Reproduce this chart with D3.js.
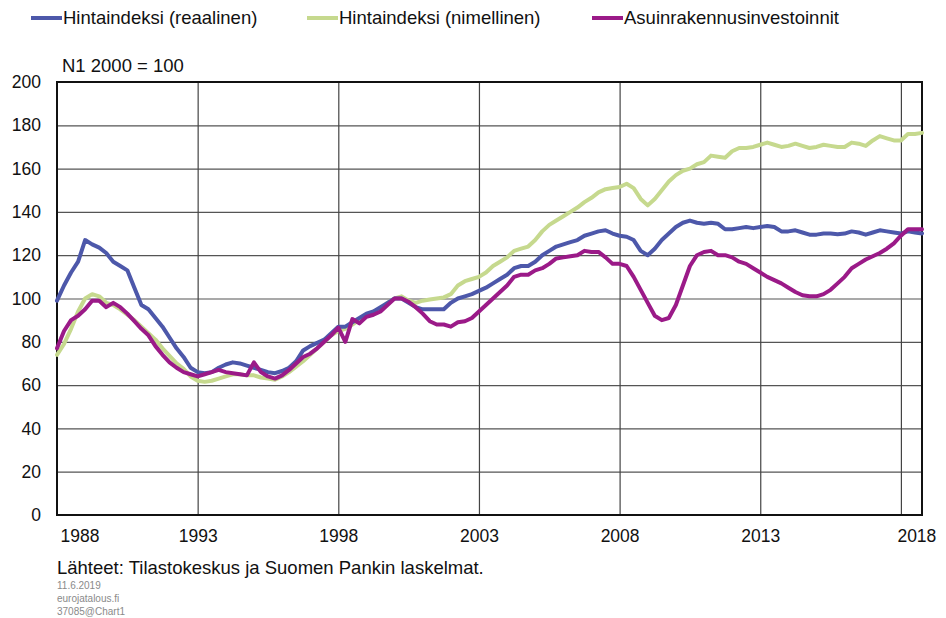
<!DOCTYPE html>
<html>
<head>
<meta charset="utf-8">
<script src="https://cdn.jsdelivr.net/npm/d3@7"></script>
<style>
  body { margin: 0; background: #fff; }
  svg { display: block; font-family: "Liberation Sans", Arial, sans-serif; }
</style>
</head>
<body>
<svg id="chart"></svg>
<script>
const width = 946
const height = 618
const marginTop = 82
const marginBottom = 103
const marginLeft = 57
const marginRight = 24

// quarterly values, 1988 Q1 .. 2018 Q4, N1 2000 = 100
const firstYear = 1988
const real = [
  99, 106, 112, 117,  127, 125, 123.5, 121,  117, 115, 113, 105,  97, 95, 91, 87,
  82, 77, 73, 68,  66, 65.5, 66, 68,  69.5, 70.5, 70, 69,  68, 67, 66, 65.5,
  66.5, 68, 71, 76,  78, 79.5, 81, 84,  87, 87, 89, 91,  93, 94, 96, 98,
  100, 100, 98, 96,  95, 95, 95, 95,  98, 100, 101, 102,  103.5, 105, 107, 109,
  111, 114, 115, 115,  117, 120, 122, 124,  125, 126, 127, 129,  130, 131, 131.5, 130,
  129, 128.5, 127, 122,  120, 123, 127, 130,  133, 135, 136, 135,  134.5, 135, 134.5, 132,
  132, 132.5, 133, 132.5,  133, 133.5, 133, 131,  131, 131.5, 130.5, 129.5,  129.5, 130, 130, 129.7,
  130, 131, 130.5, 129.5,  130.5, 131.5, 131, 130.5,  130, 131, 130.5, 130
]
const nominal = [
  74, 79, 86, 94,  100, 102, 101, 98,  97, 95, 92.5, 90,  87, 84, 81, 77,
  73.5, 70, 67.5, 64,  62, 61.5, 62, 63,  64, 65, 65, 64.5,  64.5, 63.5, 63, 62.5,
  64, 66, 68.5, 71,  74, 77, 80, 83,  85, 86, 88, 90,  92, 94, 95, 98,
  100, 101, 99, 98,  99, 99.5, 100, 100.5,  102, 106, 108, 109,  110, 112, 115, 117,
  119, 122, 123, 124,  127, 131, 134, 136,  138, 140, 142, 144.5,  146.5, 149, 150.5, 151,
  151.5, 153, 151, 146,  143, 146, 150, 154,  157, 159, 160, 162,  163, 166, 165.5, 165,
  168, 169.5, 169.5, 170,  171, 172, 171, 170,  170.5, 171.5, 170.5, 169.5,  170, 171, 170.5, 170,
  170, 172, 171.5, 170.5,  173, 175, 174, 173,  173, 176, 176, 176.5
]
const investments = [
  77, 85, 90, 92,  95, 99, 99, 96,  98, 96, 93, 89.5,  86, 83, 78, 74,
  70.5, 68, 66, 65,  64, 65, 66, 67,  66, 65.5, 65, 64.5,  70.5, 66, 64, 63,
  64.5, 67, 70, 73,  74.5, 77, 80, 83,  86.5, 80, 90.5, 88.5,  91.5, 92.5, 94, 97,
  100, 100, 98.5, 96,  93, 89.5, 88, 88,  87, 89, 89.5, 91,  94, 97, 100, 103,
  106, 110, 111, 111,  113, 114, 116, 118.5,  119, 119.5, 120, 122,  121.5, 121.5, 119, 116,
  116, 115, 110, 104,  98, 92, 90, 91,  97, 106, 115, 120,  121.5, 122, 120, 120,
  119, 117, 116, 114,  112, 110, 108.5, 107,  105, 103, 101.5, 101,  101, 102, 104, 107,
  110, 114, 116, 118,  119.5, 121, 123, 125.5,  129, 132, 132, 132
]

const seriesNames = ["Hintaindeksi (reaalinen)", "Hintaindeksi (nimellinen)", "Asuinrakennusinvestoinnit"]
const seriesColors = ["#4d58aa", "#c6d98e", "#9b1a88"]
const yTicks = [0, 20, 40, 60, 80, 100, 120, 140, 160, 180, 200]
const xTicks = [1988, 1993, 1998, 2003, 2008, 2013, 2018]

const series = [
  { name: seriesNames[0], color: seriesColors[0], values: real },
  { name: seriesNames[1], color: seriesColors[1], values: nominal },
  { name: seriesNames[2], color: seriesColors[2], values: investments }
]

const svg = d3.select("#chart")
  .attr("width", width)
  .attr("height", height)

const xScale = d3.scaleLinear()
  .domain([firstYear, firstYear + (real.length - 1) / 4])
  .range([marginLeft, width - marginRight])

const yScale = d3.scaleLinear()
  .domain([0, 200])
  .range([height - marginBottom, marginTop])

// grid
svg.append("g")
  .attr("transform", `translate(${marginLeft},0)`)
  .call(d3.axisLeft(yScale).tickValues(yTicks).tickSize(-(width - marginLeft - marginRight)).tickFormat(""))
  .call(g => g.select(".domain").remove())
  .call(g => g.selectAll("line").attr("stroke", "#555").attr("stroke-width", 1.2))

svg.append("g")
  .attr("transform", `translate(0,${height - marginBottom})`)
  .call(d3.axisBottom(xScale).tickValues(xTicks.slice(1)).tickSize(-(height - marginTop - marginBottom)).tickFormat(""))
  .call(g => g.select(".domain").remove())
  .call(g => g.selectAll("line").attr("stroke", "#444").attr("stroke-width", 1.2))

// y labels
svg.append("g")
  .attr("transform", `translate(${marginLeft},0)`)
  .call(d3.axisLeft(yScale).tickValues(yTicks).tickSize(0).tickPadding(16))
  .call(g => g.select(".domain").remove())
  .call(g => g.selectAll("text").attr("fill", "#111").style("font-size", "17.5px").style("font-family", "Liberation Sans, Arial, sans-serif"))

// x labels
svg.append("g")
  .attr("transform", `translate(0,${height - marginBottom})`)
  .call(d3.axisBottom(xScale).tickValues(xTicks).tickSize(0).tickPadding(15).tickFormat(d3.format("d")))
  .call(g => g.select(".domain").remove())
  .call(g => g.selectAll("text").attr("fill", "#111").style("font-size", "17.5px").style("font-family", "Liberation Sans, Arial, sans-serif"))
  .call(g => g.selectAll(".tick").filter(d => d === xTicks[0]).select("text").attr("text-anchor", "start").attr("dx", 3))
  .call(g => g.selectAll(".tick").filter(d => d === xTicks[xTicks.length - 1]).select("text").attr("text-anchor", "start").attr("dx", -4))

// frame
svg.append("rect")
  .attr("x", marginLeft)
  .attr("y", marginTop)
  .attr("width", width - marginLeft - marginRight)
  .attr("height", height - marginTop - marginBottom)
  .attr("fill", "none")
  .attr("stroke", "#111")
  .attr("stroke-width", 2)

const line = d3.line()
  .x((d, i) => xScale(firstYear + i / 4))
  .y(d => yScale(d))

const drawOrder = [series[1], series[0], series[2]]
svg.append("g")
  .selectAll("path")
  .data(drawOrder)
  .join("path")
  .attr("d", d => line(d.values))
  .attr("fill", "none")
  .attr("stroke", d => d.color)
  .attr("stroke-width", 4)
  .attr("stroke-linejoin", "round")
  .attr("stroke-linecap", "round")

// legend
const legendX = [31, 307, 592]
const legend = svg.append("g")
  .selectAll("g")
  .data(series)
  .join("g")
  .attr("transform", (d, i) => `translate(${legendX[i]},18)`)

legend.append("line")
  .attr("x1", 0)
  .attr("x2", 31)
  .attr("stroke", d => d.color)
  .attr("stroke-width", 4)

legend.append("text")
  .attr("x", 32)
  .attr("dy", "0.35em")
  .style("font-size", "18.5px")
  .attr("fill", "#111")
  .text(d => d.name)

svg.append("text")
  .attr("x", 62)
  .attr("y", 72)
  .style("font-size", "18.5px")
  .attr("fill", "#111")
  .text("N1 2000 = 100")

svg.append("text")
  .attr("x", 57)
  .attr("y", 574)
  .style("font-size", "18.5px")
  .attr("fill", "#111")
  .text("Lähteet: Tilastokeskus ja Suomen Pankin laskelmat.")

const notes = ["11.6.2019", "eurojatalous.fi", "37085@Chart1"]
svg.append("g")
  .selectAll("text")
  .data(notes)
  .join("text")
  .attr("x", 57)
  .attr("y", (d, i) => 589 + i * 13)
  .style("font-size", "10px")
  .attr("fill", "#8a8a8a")
  .text(d => d)
</script>
</body>
</html>
